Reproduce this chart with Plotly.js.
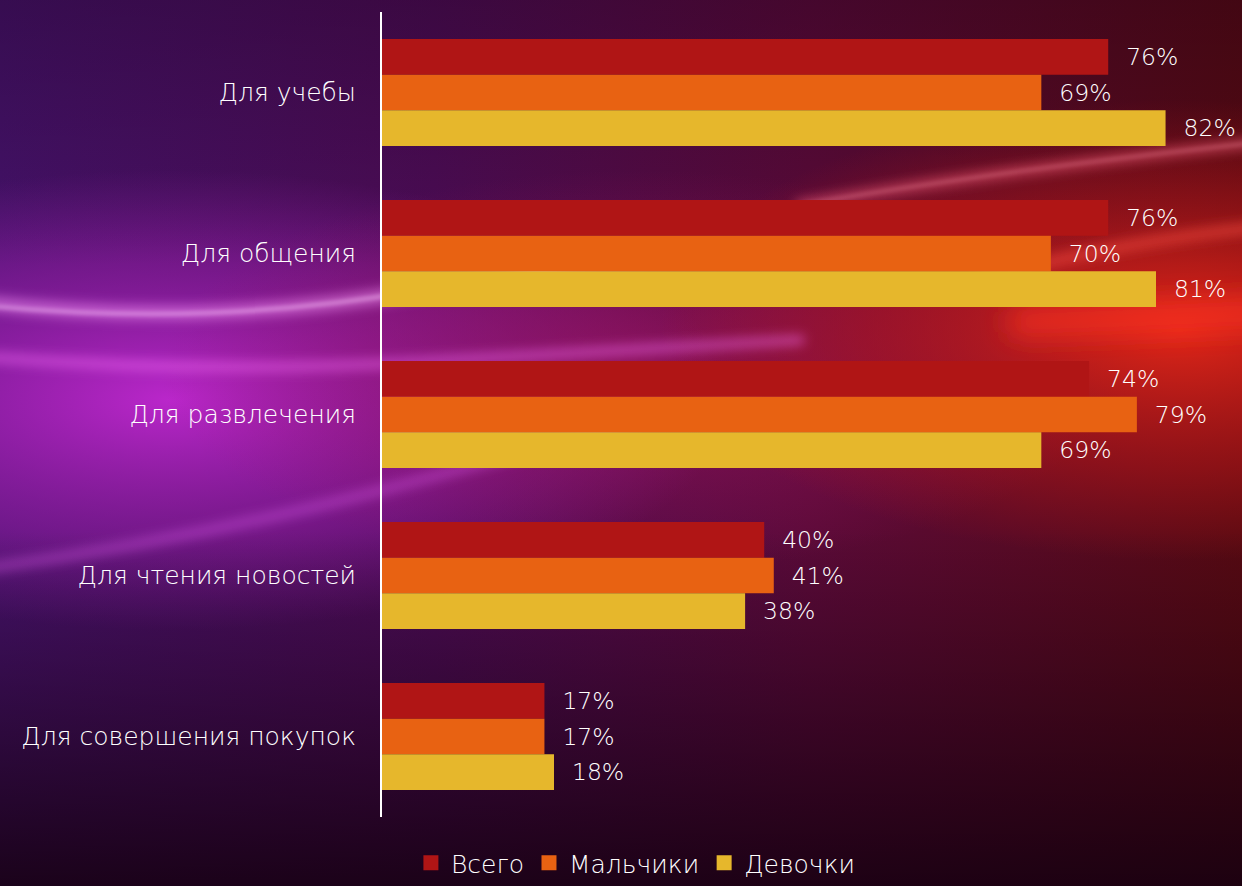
<!DOCTYPE html>
<html><head><meta charset="utf-8">
<script src="https://cdn.plot.ly/plotly-3.0.1.min.js"></script>
<style>
html,body{margin:0;padding:0;width:1242px;height:886px;overflow:hidden;background:#2a0828;}
#bg{position:absolute;left:0;top:0;width:1242px;height:886px;z-index:0;}
#chart{position:absolute;left:0;top:0;width:1242px;height:886px;z-index:1;}
</style></head>
<body>
<svg id="bg" width="1242" height="886" xmlns="http://www.w3.org/2000/svg">
 <defs>
  <linearGradient id="base" x1="0" y1="0" x2="1" y2="0">
   <stop offset="0" stop-color="#45126a"/>
   <stop offset="0.35" stop-color="#4c0c55"/>
   <stop offset="0.65" stop-color="#5a0a38"/>
   <stop offset="1" stop-color="#560a12"/>
  </linearGradient>
  <radialGradient id="mag" cx="0.5" cy="0.5" r="0.5">
   <stop offset="0" stop-color="#c028d0" stop-opacity="0.95"/>
   <stop offset="0.6" stop-color="#a020b0" stop-opacity="0.5"/>
   <stop offset="1" stop-color="#a020b0" stop-opacity="0"/>
  </radialGradient>
  <radialGradient id="red" cx="0.5" cy="0.5" r="0.5">
   <stop offset="0" stop-color="#e82818" stop-opacity="0.95"/>
   <stop offset="0.6" stop-color="#c01818" stop-opacity="0.5"/>
   <stop offset="1" stop-color="#c01818" stop-opacity="0"/>
  </radialGradient>
  <radialGradient id="mid" cx="0.5" cy="0.5" r="0.5">
   <stop offset="0" stop-color="#a01460" stop-opacity="0.7"/>
   <stop offset="1" stop-color="#a01460" stop-opacity="0"/>
  </radialGradient>
  <linearGradient id="dark" x1="0" y1="0" x2="0" y2="1">
   <stop offset="0" stop-color="#150015" stop-opacity="0.3"/>
   <stop offset="0.3" stop-color="#150015" stop-opacity="0"/>
   <stop offset="0.6" stop-color="#150010" stop-opacity="0"/>
   <stop offset="1" stop-color="#150010" stop-opacity="0.88"/>
  </linearGradient>
  <filter id="b6" filterUnits="userSpaceOnUse" x="-100" y="-100" width="1442" height="1086"><feGaussianBlur stdDeviation="6"/></filter>
  <filter id="b2" filterUnits="userSpaceOnUse" x="-100" y="-100" width="1442" height="1086"><feGaussianBlur stdDeviation="2"/></filter>
  <filter id="b14" filterUnits="userSpaceOnUse" x="-100" y="-100" width="1442" height="1086"><feGaussianBlur stdDeviation="14"/></filter>
 </defs>
 <rect width="1242" height="886" fill="url(#base)"/>
 <ellipse cx="170" cy="400" rx="560" ry="230" fill="url(#mag)"/>
 <ellipse cx="640" cy="370" rx="480" ry="200" fill="url(#mid)"/>
 <ellipse cx="1180" cy="330" rx="520" ry="230" fill="url(#red)"/>
 <rect width="1242" height="886" fill="url(#dark)"/>
 <g fill="none" stroke-linecap="round">
  <path d="M -40 300 Q 200 330 420 290 T 900 250" stroke="#ff9cff" stroke-opacity="0.5" stroke-width="14" filter="url(#b6)"/>
  <path d="M -40 303 Q 200 330 420 290 T 900 250" stroke="#ffd0ff" stroke-opacity="0.55" stroke-width="3" filter="url(#b2)"/>
  <path d="M -40 355 Q 200 375 420 362 T 800 340" stroke="#ff70ff" stroke-opacity="0.45" stroke-width="10" filter="url(#b6)"/>
  <path d="M -40 572 Q 200 540 420 480 T 800 380" stroke="#e060f0" stroke-opacity="0.4" stroke-width="10" filter="url(#b6)"/>
  <path d="M 800 205 Q 1000 170 1280 140" stroke="#ff6080" stroke-opacity="0.55" stroke-width="10" filter="url(#b6)"/>
  <path d="M 800 205 Q 1000 170 1280 140" stroke="#ffa0b0" stroke-opacity="0.45" stroke-width="2" filter="url(#b2)"/>
  <path d="M 980 280 Q 1120 240 1280 225" stroke="#ff5040" stroke-opacity="0.5" stroke-width="12" filter="url(#b6)"/>
  <path d="M 1020 322 Q 1150 318 1280 312" stroke="#ff3020" stroke-opacity="0.75" stroke-width="26" filter="url(#b14)"/>
 </g>
</svg>
<div id="chart"></div>
<script>
var categories = ["Для учебы","Для общения","Для развлечения","Для чтения новостей","Для совершения покупок"];
var seriesNames = ["Всего","Мальчики","Девочки"];
var total = [76,76,74,40,17];
var boys = [69,70,79,41,17];
var girls = [82,81,69,38,18];
var colors = ["#B01515","#E86212","#E6B72C"];
var vals = [total, boys, girls];
var fontFam = "'DejaVu Sans', sans-serif";
var traces = vals.map(function(v,i){
  return {
    type:'bar', orientation:'h', name:seriesNames[i], showlegend:false,
    y:categories, x:v,
    text:v.map(function(d){return '\u00a0\u00a0'+d+'%';}),
    textposition:'outside', cliponaxis:false,
    textfont:{color:'#ffffff', size:23.5, family:fontFam, weight:200},
    marker:{color:colors[i], line:{width:0}},
    hoverinfo:'none'
  };
});
seriesNames.forEach(function(n,i){
  traces.push({type:'scatter', mode:'markers', name:n, x:[null], y:[null],
    marker:{symbol:'square', size:15, color:colors[i]}, hoverinfo:'none', showlegend:true});
});
var layout = {
  width:1242, height:886,
  paper_bgcolor:'rgba(0,0,0,0)', plot_bgcolor:'rgba(0,0,0,0)',
  margin:{l:382, r:0, t:12, b:69},
  barmode:'group', bargap:0.335, bargroupgap:0,
  showlegend:true,
  legend:{orientation:'h', xref:'container', x:0.512, xanchor:'center', yref:'container', y:-0.008, yanchor:'bottom',
    font:{color:'#ffffff', size:25, family:fontFam, weight:200}, traceorder:'normal', itemwidth:30},
  xaxis:{range:[0,90], visible:false, showgrid:false, zeroline:false, fixedrange:true},
  yaxis:{autorange:'reversed', showline:true, linecolor:'#ffffff', linewidth:2, showgrid:false, zeroline:false,
    ticks:'outside', ticklen:19, tickcolor:'rgba(0,0,0,0)',
    tickfont:{color:'#ffffff', size:25, family:fontFam, weight:200}},
  font:{family:fontFam, color:'#ffffff'}
};
Plotly.newPlot('chart', traces, layout, {displayModeBar:false, staticPlot:true});
</script>
</body></html>
